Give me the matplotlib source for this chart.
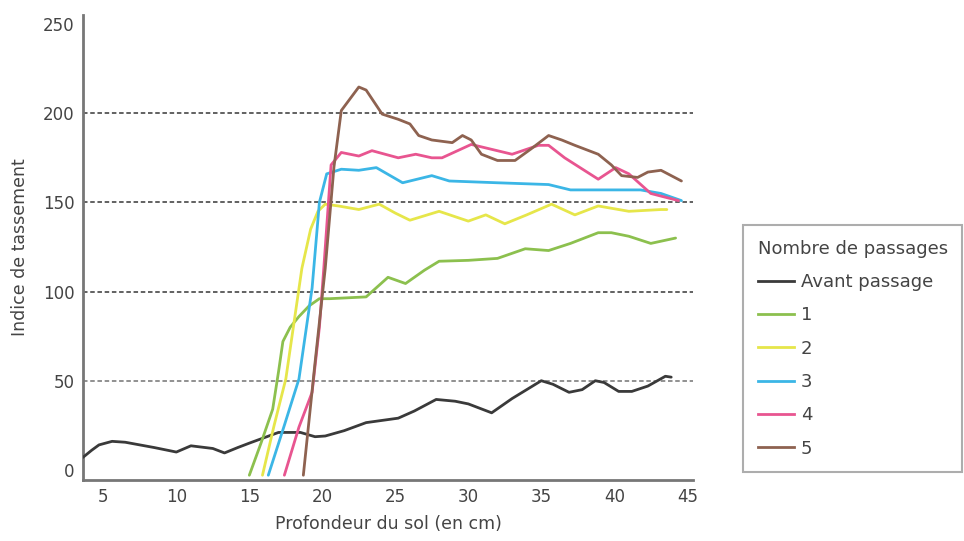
import matplotlib
matplotlib.use("Agg")
import matplotlib.pyplot as plt
from matplotlib.lines import Line2D

plt.rcParams['font.family'] = ['Liberation Sans Narrow', 'DejaVu Sans']

# ---- data ----
avant_x = [3.6, 4.2, 4.7, 5.6, 6.5, 7.5, 8.5, 10.0, 11.0, 12.5, 13.3, 14.2, 15.0, 16.0, 17.0, 18.5, 19.5, 20.2, 21.5, 23.0, 25.2, 26.3, 27.8, 29.1, 30.0, 31.6, 33.0, 35.0, 35.8, 36.9, 37.8, 38.7, 39.3, 40.3, 41.2, 42.3, 43.5, 43.9]
avant_y = [7, 11, 14, 16, 15.5, 14, 12.5, 10, 13.5, 12, 9.5, 12.5, 15, 18, 21, 21, 18.6, 19, 22, 26.5, 29, 33, 39.5, 38.5, 37, 32, 40, 50, 48, 43.5, 45, 50, 49, 44, 44, 47, 52.5, 52]

p1_x = [15.0, 15.8, 16.6, 17.0, 17.3, 17.8, 18.4, 19.1, 19.8, 20.5, 23.0, 24.5, 25.7, 27.0, 28.0, 30.0, 32.0, 33.9, 35.5, 37.0, 38.9, 39.8, 41.0, 42.5, 44.2]
p1_y = [-3, 15, 34, 55, 72, 80, 86, 92, 96, 96, 97, 108, 104.5, 112, 117, 117.5, 118.6, 124, 123, 127, 133, 133, 131, 127, 130]

p2_x = [15.9, 16.7, 17.5, 18.6, 19.2, 19.7, 20.2, 21.1, 22.5, 23.9, 25.0, 26.0, 28.0, 30.0, 31.2, 32.5, 34.0, 35.7, 37.3, 38.9, 41.0, 43.2, 43.6]
p2_y = [-3, 25, 51, 113, 135, 145, 149, 148, 146, 149, 144, 140, 145, 139.5, 143, 138, 143, 149, 143, 148, 145, 146, 146]

p3_x = [16.3, 17.4, 18.4, 19.3, 19.8, 20.3, 21.3, 22.5, 23.7, 25.5, 27.5, 28.7, 32.0, 35.5, 37.0, 41.8, 43.2, 44.6]
p3_y = [-3, 25, 51, 102, 150, 166, 168.6, 168, 169.5, 161, 165, 162, 161, 160, 157, 157, 155, 151]

p4_x = [17.4, 18.4, 19.3, 19.8, 20.1, 20.6, 21.3, 22.5, 23.4, 25.2, 26.4, 27.5, 28.2, 30.2, 33.0, 34.8, 35.5, 36.6, 38.9, 40.1, 41.0, 42.5, 44.4]
p4_y = [-3, 24, 43.5, 80, 113, 171, 178, 176, 179, 175, 177, 175, 175, 182.5, 177, 182, 182, 175, 163, 169.5, 166, 155, 151]

p5_x = [18.7, 19.5, 20.2, 20.8, 21.3, 22.5, 23.0, 24.1, 25.2, 26.0, 26.6, 27.5, 28.9, 29.6, 30.2, 30.9, 32.0, 33.2, 34.3, 35.5, 36.4, 37.3, 38.9, 39.8, 40.5, 41.6, 42.3, 43.2, 44.6]
p5_y = [-3, 60, 113, 170, 201.5, 214.7, 213, 199.5, 196.6, 194, 187.5, 185, 183.5, 187.5, 185, 177, 173.5, 173.5, 180, 187.5, 185, 182, 177, 171, 165, 164, 167, 168, 162]

series_labels = ["Avant passage", "1", "2", "3", "4", "5"]
colors = ["#3a3a3a", "#8cc04e", "#e6e64a", "#3bb6e6", "#e85590", "#8e6250"]
x_ticks = [5, 10, 15, 20, 25, 30, 35, 40, 45]
y_ticks = [0, 50, 100, 150, 200, 250]
grid_levels = [50, 100, 150, 200]

fig = plt.figure(figsize=(9.64, 5.41), dpi=100)
ax = fig.add_axes([0.086, 0.113, 0.633, 0.859])

for lvl in grid_levels:
    ax.axhline(lvl, color="#555555" if lvl != 50 else "#888888", lw=1.3,
               ls=(0, (2.5, 1.5)), zorder=1)

data = [(avant_x, avant_y), (p1_x, p1_y), (p2_x, p2_y), (p3_x, p3_y), (p4_x, p4_y), (p5_x, p5_y)]
for (xs, ys), c in zip(data, colors):
    ax.plot(xs, ys, color=c, lw=2.0, zorder=3, solid_capstyle='round', solid_joinstyle='round')

ax.set_xlim(3.6, 45.4)
ax.set_ylim(-5.6, 255)
ax.set_xticks(x_ticks)
ax.set_yticks(y_ticks)
ax.tick_params(length=0, labelsize=12, colors="#444444", pad=6)
for s in ["top", "right"]:
    ax.spines[s].set_visible(False)
for s in ["left", "bottom"]:
    ax.spines[s].set_color("#777777")
    ax.spines[s].set_linewidth(2)

ax.set_xlabel("Profondeur du sol (en cm)", fontsize=12.5, color="#444444", labelpad=6)
ax.set_ylabel("Indice de tassement", fontsize=12.5, color="#444444", labelpad=10)

handles = [Line2D([0], [0], color=c, lw=2) for c in colors]
leg = fig.legend(handles, series_labels, title="Nombre de passages",
                 loc="upper left", bbox_to_anchor=(0.771, 0.584), borderaxespad=0,
                 frameon=True, fancybox=False, fontsize=13, title_fontsize=13,
                 handlelength=2.0, handletextpad=0.4, labelspacing=0.85,
                 borderpad=0.8, alignment="left")
leg.get_frame().set_edgecolor("#999999")
leg.get_frame().set_linewidth(1.5)
for t in leg.get_texts():
    t.set_color("#444444")
leg.get_title().set_color("#444444")

fig.savefig("out.png", dpi=100)
